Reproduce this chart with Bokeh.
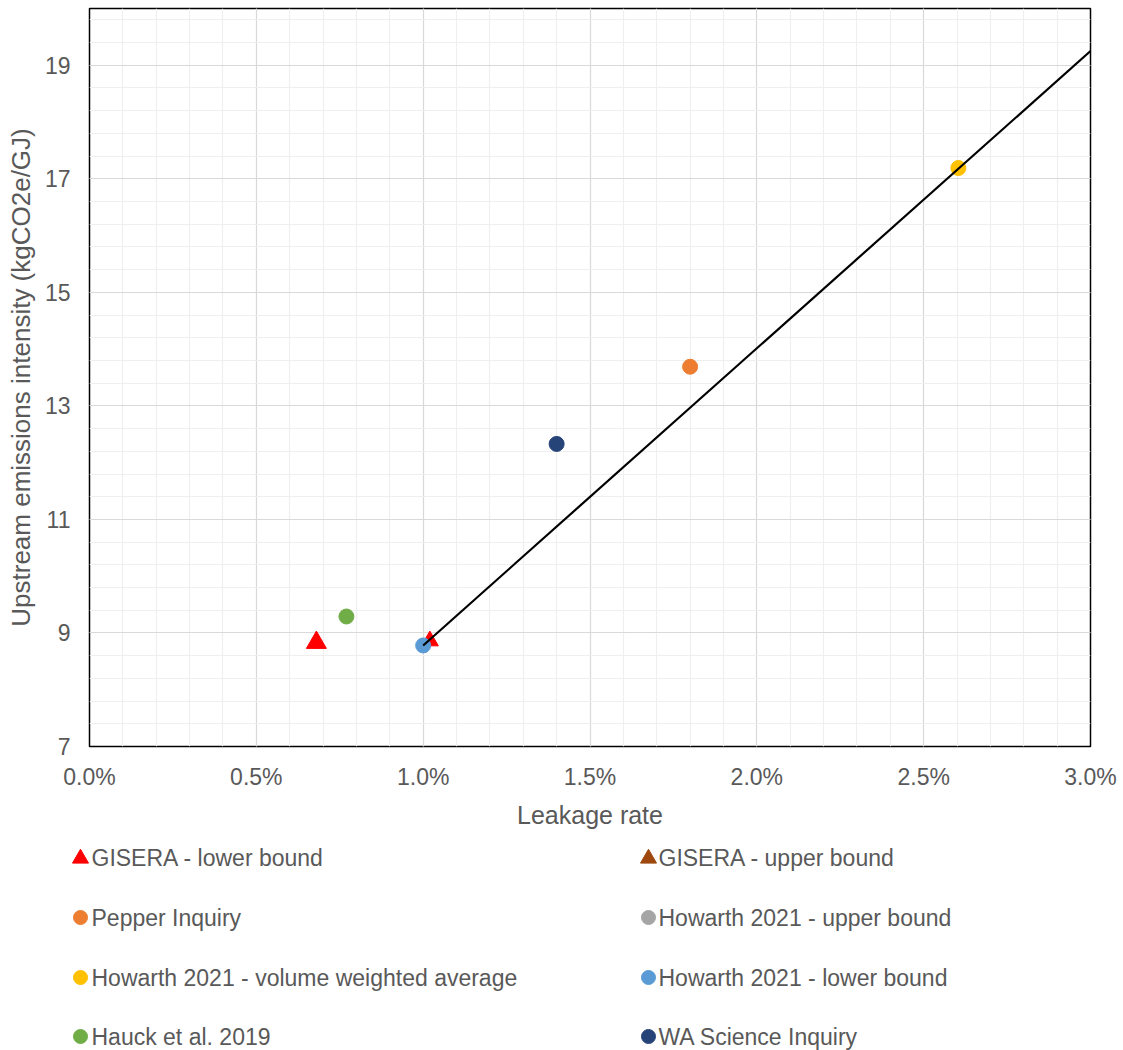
from bokeh.plotting import figure
from bokeh.models import FixedTicker, PrintfTickFormatter, Range1d
from bokeh.layouts import column
from bokeh.embed import file_html
from bokeh.resources import INLINE
from bokeh.core.properties import value

FONT = "Liberation Sans"
TEXT_COLOR = "#595959"

# ---------------- data ----------------
series_names = [
    "GISERA - lower bound", "GISERA - upper bound",
    "Pepper Inquiry", "Howarth 2021 - upper bound",
    "Howarth 2021 - volume weighted average", "Howarth 2021 - lower bound",
    "Hauck et al. 2019", "WA Science Inquiry",
]
series_colors = [
    "#FF0000", "#9E480E",
    "#ED7D31", "#A5A5A5",
    "#FFC000", "#5B9BD5",
    "#70AD47", "#264478",
]
series_markers = [
    "triangle", "triangle",
    "circle", "circle",
    "circle", "circle",
    "circle", "circle",
]

# leakage rate (%) and upstream emissions intensity (kgCO2e/GJ)
gisera_x = [0.68, 1.02]
gisera_y = [8.83, 8.86]
gisera_size = [20, 17]
pepper_x = [1.80]
pepper_y = [13.69]
howarth_avg_x = [2.604]
howarth_avg_y = [17.19]
howarth_low_x = [1.00]
howarth_low_y = [8.78]
hauck_x = [0.77]
hauck_y = [9.29]
wa_x = [1.40]
wa_y = [12.33]
trend_x = [1.00, 3.00]
trend_y = [8.78, 19.25]

x_ticks = [0.0, 0.5, 1.0, 1.5, 2.0, 2.5, 3.0]
x_minor = [i / 10 for i in range(0, 31)]
y_ticks = [7, 9, 11, 13, 15, 17, 19]
y_minor = [7 + i * 0.4 for i in range(0, 33)]

# ---------------- main chart ----------------
p = figure(
    width=1123, height=838,
    frame_width=1001, frame_height=738,
    min_border_left=89, min_border_right=33, min_border_top=8, min_border_bottom=92,
    x_range=Range1d(0, 3.0), y_range=Range1d(7, 20),
    output_backend="svg", toolbar_location=None,
)
p.background_fill_color = "white"
p.border_fill_color = "white"
p.outline_line_color = "black"
p.outline_line_width = 1.5

p.xaxis.ticker = FixedTicker(ticks=x_ticks, minor_ticks=x_minor)
p.yaxis.ticker = FixedTicker(ticks=y_ticks, minor_ticks=y_minor)
p.xaxis.formatter = PrintfTickFormatter(format="%.1f%%")

for ax in (p.xaxis, p.yaxis):
    ax.axis_line_color = None
    ax.major_tick_line_color = None
    ax.minor_tick_line_color = None
    ax.major_tick_out = 0
    ax.minor_tick_out = 0
    ax.major_label_text_font = FONT
    ax.major_label_text_font_size = "23px"
    ax.major_label_text_color = TEXT_COLOR
    ax.axis_label_text_font = FONT
    ax.axis_label_text_font_size = "25px"
    ax.axis_label_text_font_style = "normal"
    ax.axis_label_text_color = TEXT_COLOR

p.yaxis.axis_label_text_font_size = "26px"
p.xaxis.axis_label = "Leakage rate"
p.yaxis.axis_label = "Upstream emissions intensity (kgCO2e/GJ)"
p.xaxis.major_label_standoff = 17
p.xaxis.axis_label_standoff = 8
p.yaxis.major_label_standoff = 19
p.yaxis.axis_label_standoff = 6

p.grid.grid_line_color = "#D9D9D9"
p.grid.grid_line_width = 1.2
p.grid.minor_grid_line_color = "#EFEFEF"
p.grid.minor_grid_line_width = 1.2

p.scatter(gisera_x, gisera_y, marker="triangle", size=gisera_size,
          fill_color=series_colors[0], line_color=series_colors[0])
p.scatter(hauck_x, hauck_y, marker="circle", size=15,
          fill_color=series_colors[6], line_color=series_colors[6])
p.scatter(wa_x, wa_y, marker="circle", size=15,
          fill_color=series_colors[7], line_color=series_colors[7])
p.scatter(pepper_x, pepper_y, marker="circle", size=15,
          fill_color=series_colors[2], line_color=series_colors[2])
p.scatter(howarth_avg_x, howarth_avg_y, marker="circle", size=15,
          fill_color=series_colors[4], line_color=series_colors[4])
p.scatter(howarth_low_x, howarth_low_y, marker="circle", size=15,
          fill_color=series_colors[5], line_color=series_colors[5])
p.line(trend_x, trend_y, line_color="black", line_width=2.2)

# ---------------- legend (two columns) ----------------
LW, LH = 1123, 212
lg = figure(
    width=LW, height=LH, x_range=Range1d(0, LW), y_range=Range1d(LH, 0),
    x_axis_type=None, y_axis_type=None,
    min_border=0, min_border_left=0, min_border_right=0, min_border_top=0, min_border_bottom=0,
    output_backend="svg", toolbar_location=None,
)
lg.outline_line_color = None
lg.background_fill_color = "white"
lg.border_fill_color = "white"

for fig in (p, lg):
    if "frame_align" in fig.properties():
        fig.frame_align = False

col_marker_x = [80, 648]
col_text_x = [91, 658]
row_y = [19, 79, 139, 198]

mx, my, mc, mm, ms, tx, ty = [], [], [], [], [], [], []
for i, name in enumerate(series_names):
    r, c = divmod(i, 2)
    mx.append(col_marker_x[c])
    my.append(row_y[r] + (1 if series_markers[i] == "triangle" else 0))
    mc.append(series_colors[i])
    mm.append(series_markers[i])
    ms.append(16 if series_markers[i] == "triangle" else 14)
    tx.append(col_text_x[c])
    ty.append(row_y[r])

lg.scatter(x=mx, y=my, marker=mm, size=ms, fill_color=mc, line_color=mc)
lg.text(x=tx, y=ty, text=series_names, text_font=value(FONT), text_font_size="23px",
        text_color=TEXT_COLOR, text_baseline="middle", text_align="left")

layout = column(p, lg, spacing=0)
open("out.html", "w").write(file_html(layout, INLINE))
